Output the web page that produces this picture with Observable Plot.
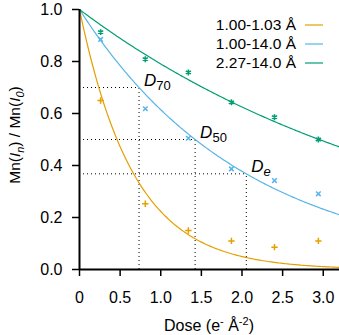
<!DOCTYPE html>
<html><head><meta charset="utf-8">
<script src="https://cdn.jsdelivr.net/npm/d3@7"></script>
<script src="https://cdn.jsdelivr.net/npm/@observablehq/plot@0.6"></script>
<style>body{margin:0;background:#fff} svg{display:block}</style>
</head><body><div id="chart"></div>
<script>
// ---- data ----
const doses = [0.26, 0.81, 1.34, 1.87, 2.40, 2.94];
const seriesNames = ["1.00-1.03 Å", "1.00-14.0 Å", "2.27-14.0 Å"];
const orangeValues = [0.65, 0.253, 0.15, 0.11, 0.086, 0.11];
const blueValues = [0.885, 0.618, 0.505, 0.387, 0.342, 0.291];
const greenValues = [0.913, 0.809, 0.758, 0.643, 0.586, 0.50];
const decayRates = [1.5, 0.487, 0.235];          // fitted exponential decay constants
const seriesColors = ["#E69F00", "#56B4E9", "#009E73"];
const seriesSymbols = ["plus", "times", "asterisk"];
const thresholdLevels = [0.7, 0.5, 0.368];
const thresholdDoses = [0.733, 1.423, 2.053];
const thresholdSubs = ["70", "50", "e"];
const xTicks = [0, 0.5, 1, 1.5, 2, 2.5, 3];
const yTicks = [0, 0.2, 0.4, 0.6, 0.8, 1];

// ---- derived tables ----
const allValues = [orangeValues, blueValues, greenValues];
const points = [];
seriesNames.forEach((s, i) => doses.forEach((d, j) => points.push({series: s, dose: d, value: allValues[i][j]})));
const curves = [];
seriesNames.forEach((s, i) => { for (let t = 0; t <= 160; t++) { const d = t * 0.02; curves.push({series: s, dose: d, value: Math.exp(-decayRates[i] * d)}); } });
const thresholds = thresholdLevels.map((l, i) => ({level: l, dose: thresholdDoses[i], sub: thresholdSubs[i]}));

const font = "'Liberation Sans', Arial, sans-serif";
const svg = Plot.plot({
  width: 339, height: 335,
  marginLeft: 79, marginRight: 0, marginTop: 9, marginBottom: 66,
  style: {fontFamily: font, fontSize: "16px", color: "#000", background: "#fff"},
  x: {domain: [0, 3.2]},
  y: {domain: [0, 1]},
  color: {domain: seriesNames, range: seriesColors},
  symbol: {domain: seriesNames, range: seriesSymbols},
  marks: [
    Plot.ruleY(thresholds, {y: "level", x1: 0, x2: "dose", stroke: "#000", strokeWidth: 1, strokeDasharray: "1,3"}),
    Plot.ruleX(thresholds, {x: "dose", y1: 0, y2: "level", stroke: "#000", strokeWidth: 1, strokeDasharray: "1,3"}),
    Plot.line(curves, {x: "dose", y: "value", stroke: "series", strokeWidth: 1.2, clip: true}),
    Plot.dot(points.filter(p => p.series !== seriesNames[2]), {x: "dose", y: "value", stroke: "series", symbol: "series", r: 2.2, strokeWidth: 1.5}),
    Plot.dot(points.filter(p => p.series === seriesNames[2]), {x: "dose", y: "value", stroke: "series", symbol: "series", r: 2.8, strokeWidth: 1.6}),
    Plot.text(thresholds, {x: "dose", y: "level", text: d => "D" + d.sub, textAnchor: "start", lineAnchor: "bottom", dx: 5, dy: -2, fontSize: 17, fill: "#000"}),
    Plot.axisX(xTicks, {tickSize: 7, tickPadding: 15, strokeWidth: 1.5, tickFormat: d => d === 0 ? "0" : d.toFixed(1), label: null}),
    Plot.axisY(yTicks, {tickSize: 7, tickPadding: 10, strokeWidth: 1.5, tickFormat: d => d.toFixed(1), label: null}),
    Plot.ruleX([0], {stroke: "#000", strokeWidth: 2}),
    Plot.ruleY([0], {stroke: "#000", strokeWidth: 2})
  ]
});

const root = d3.select(svg);
// subscripted D labels
root.selectAll("text").each(function() {
  const t = d3.select(this);
  const s = t.text();
  const m = /^D(70|50|e)$/.exec(s);
  if (!m) return;
  t.text("");
  t.append("tspan").attr("font-style", "italic").text("D");
  t.append("tspan").attr("dy", 4).attr("font-size", 13).attr("font-style", m[1] === "e" ? "italic" : "normal").text(m[1]);
});

// legend
const lg = root.append("g").attr("font-family", font).attr("font-size", 15.5);
seriesNames.forEach((s, i) => {
  const y = 25 + i * 19;
  lg.append("text").attr("x", 296).attr("y", y).attr("dy", "0.35em").attr("text-anchor", "end").attr("fill", "#000").text(s);
  lg.append("line").attr("x1", 305).attr("x2", 323).attr("y1", y).attr("y2", y).attr("stroke", seriesColors[i]).attr("stroke-width", 1.2);
});

// axis labels
const xl = root.append("text").attr("x", 209).attr("y", 331).attr("text-anchor", "middle").attr("font-family", font).attr("font-size", 16).attr("fill", "#000");
xl.append("tspan").text("Dose (e");
xl.append("tspan").attr("dy", -6).attr("font-size", 11).text("-");
xl.append("tspan").attr("dy", 6).text(" Å");
xl.append("tspan").attr("dy", -6).attr("font-size", 11).text("-2");
xl.append("tspan").attr("dy", 6).text(")");

const yl = root.append("text").attr("transform", "translate(20,135) rotate(-90)").attr("text-anchor", "middle").attr("font-family", font).attr("font-size", 15.5).attr("fill", "#000");
yl.append("tspan").text("Mn(");
yl.append("tspan").attr("font-style", "italic").text("I");
yl.append("tspan").attr("dy", 4).attr("font-size", 11).attr("font-style", "italic").text("n");
yl.append("tspan").attr("dy", -4).text(") / Mn(");
yl.append("tspan").attr("font-style", "italic").text("I");
yl.append("tspan").attr("dy", 4).attr("font-size", 11).attr("font-style", "italic").text("0");
yl.append("tspan").attr("dy", -4).text(")");

document.getElementById("chart").appendChild(svg);
</script>
</body></html>
